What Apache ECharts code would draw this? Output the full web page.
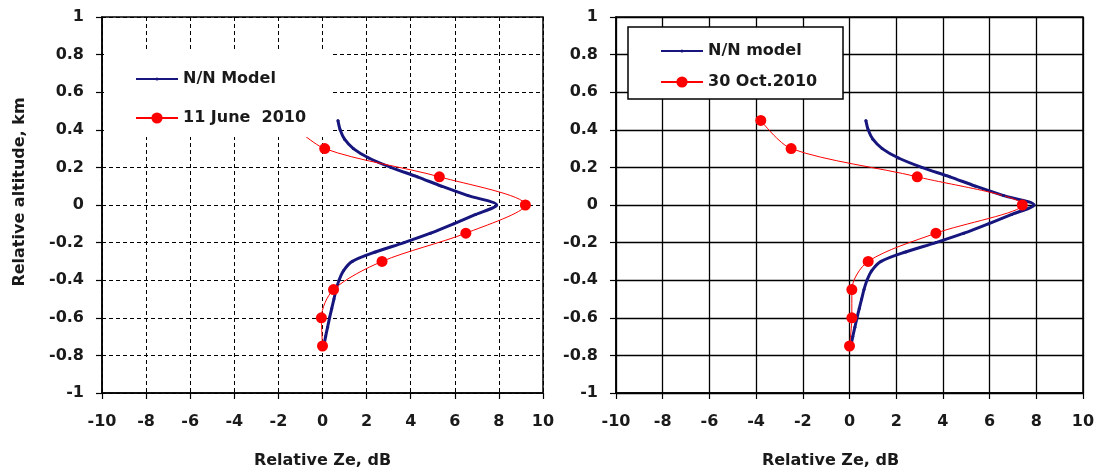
<!DOCTYPE html>
<html>
<head>
<meta charset="utf-8">
<script src="https://cdn.jsdelivr.net/npm/echarts@6/dist/echarts.min.js"></script>
<style>
  html, body { margin: 0; padding: 0; background: #fff; }
  #chart { width: 1099px; height: 474px; }
</style>
</head>
<body>
<div id="chart"></div>
<script>
// ---------- data ----------
const modelAlt = [0.45, 0.4, 0.35, 0.3, 0.25, 0.2, 0.15, 0.1, 0.05, 0, -0.05, -0.1, -0.15, -0.2, -0.25, -0.3, -0.35, -0.4, -0.45, -0.5, -0.55, -0.6, -0.65, -0.7, -0.75];
const modelZe  = [0.7, 0.8, 1.0, 1.4, 2.1, 3.1, 4.3, 5.4, 6.6, 7.9, 6.95, 5.95, 4.9, 3.7, 2.4, 1.35, 0.95, 0.75, 0.62, 0.52, 0.42, 0.32, 0.23, 0.14, 0.06];

const juneAlt = [0.45, 0.3, 0.15, 0, -0.15, -0.3, -0.45, -0.6, -0.75];
const juneZe  = [-1.6, 0.1, 5.3, 9.2, 6.5, 2.7, 0.5, -0.05, 0];

const octAlt = [0.45, 0.3, 0.15, 0, -0.15, -0.3, -0.45, -0.6, -0.75];
const octZe  = [-3.8, -2.5, 2.9, 7.4, 3.7, 0.8, 0.1, 0.1, 0];

const leftNames  = ['N/N Model', '11 June  2010'];
const rightNames = ['N/N model', '30 Oct.2010'];

const xTitle = 'Relative Ze, dB';
const yTitle = 'Relative altitude, km';

// ---------- styling ----------
const FONT = 'DejaVu Sans';
const TXT = '#1a1a1a';
const BLUE = '#16167e';
const RED = '#ff0000';

function pairs(xs, ys) { return xs.map((x, i) => [x, ys[i]]); }

function xAxis(gridIndex, dashed, namePad) {
  return {
    type: 'value', gridIndex, min: -10, max: 10, interval: 2,
    name: xTitle, nameLocation: 'middle', nameGap: 60,
    nameTextStyle: { fontFamily: FONT, fontWeight: 'bold', fontSize: 16, color: TXT, padding: namePad },
    axisLine: { onZero: false, lineStyle: { color: '#000', width: 1.5 } },
    axisTick: { show: true, length: 6, lineStyle: { color: '#000', width: 1.2 } },
    axisLabel: { margin: 21, fontFamily: FONT, fontWeight: 'bold', fontSize: 16, color: TXT },
    splitLine: { show: true, lineStyle: { color: '#000', width: dashed ? 1 : 1.3, type: dashed ? [4, 3] : 'solid' } }
  };
}
function yAxis(gridIndex, dashed, withName) {
  const a = {
    type: 'value', gridIndex, min: -1, max: 1, interval: 0.2,
    axisLine: { onZero: false, lineStyle: { color: '#000', width: 1.5 } },
    axisTick: { show: true, length: 6, lineStyle: { color: '#000', width: 1.2 } },
    axisLabel: { margin: 18, fontFamily: FONT, fontWeight: 'bold', fontSize: 16, color: TXT,
                 formatter: v => String(Math.round(v * 10) / 10) },
    splitLine: { show: true, lineStyle: { color: '#000', width: dashed ? 1 : 1.3, type: dashed ? [4, 3] : 'solid' } }
  };
  if (withName) {
    Object.assign(a, {
      name: yTitle, nameLocation: 'middle', nameGap: 74,
      nameTextStyle: { fontFamily: FONT, fontWeight: 'bold', fontSize: 16, color: TXT, padding: [0, 0, 0, 26] }
    });
  }
  return a;
}

function modelSeries(name, idx) {
  return {
    name, type: 'line', xAxisIndex: idx, yAxisIndex: idx,
    data: pairs(modelZe, modelAlt), smooth: 0.3,
    symbol: 'circle', symbolSize: 3, showSymbol: true,
    lineStyle: { color: BLUE, width: 3 }, itemStyle: { color: BLUE },
    z: 2
  };
}
function obsSeries(name, idx, xs, ys) {
  return {
    name, type: 'line', xAxisIndex: idx, yAxisIndex: idx,
    data: pairs(xs, ys), smooth: 0.3,
    symbol: 'circle', symbolSize: 11, showSymbol: true,
    lineStyle: { color: RED, width: 1 }, itemStyle: { color: RED },
    z: 2
  };
}

const legendText = { fontFamily: FONT, fontWeight: 'bold', fontSize: 16, color: TXT };
function legendItem(name, left, centerY, small) {
  const h = small ? 4 : 14;
  return { data: [name], left, top: centerY - h / 2, itemWidth: 42, itemHeight: h,
           textStyle: legendText, z: 5, padding: 0 };
}

const option = {
  backgroundColor: '#fff',
  animation: false,
  grid: [
    { left: 102, right: 556, top: 17, bottom: 80, show: true, borderColor: '#000', borderWidth: 1.5, backgroundColor: 'transparent' },
    { left: 616, right: 16, top: 17, bottom: 80, show: true, borderColor: '#000', borderWidth: 1.5, backgroundColor: 'transparent' }
  ],
  xAxis: [ xAxis(0, true, [0, 0, 0, 0]), xAxis(1, false, [0, 38, 0, 0]) ],
  yAxis: [ yAxis(0, true, true), yAxis(1, false, false) ],
  graphic: [
    { type: 'rect', z: 3, shape: { x: 104, y: 52, width: 226, height: 85 }, style: { fill: '#fff' } },
    { type: 'rect', z: 3, shape: { x: 628, y: 27, width: 215, height: 72 }, style: { fill: '#fff', stroke: '#000', lineWidth: 1.5 } }
  ],
  legend: [
    legendItem(leftNames[0], 135, 73, true),
    legendItem(leftNames[1], 135, 117, false),
    legendItem(rightNames[0], 660, 45, true),
    legendItem(rightNames[1], 660, 81, false)
  ],
  series: [
    modelSeries(leftNames[0], 0),
    obsSeries(leftNames[1], 0, juneZe, juneAlt),
    modelSeries(rightNames[0], 1),
    obsSeries(rightNames[1], 1, octZe, octAlt)
  ]
};

const chart = echarts.init(document.getElementById('chart'), null, { renderer: 'canvas' });
chart.setOption(option);
</script>
</body>
</html>
